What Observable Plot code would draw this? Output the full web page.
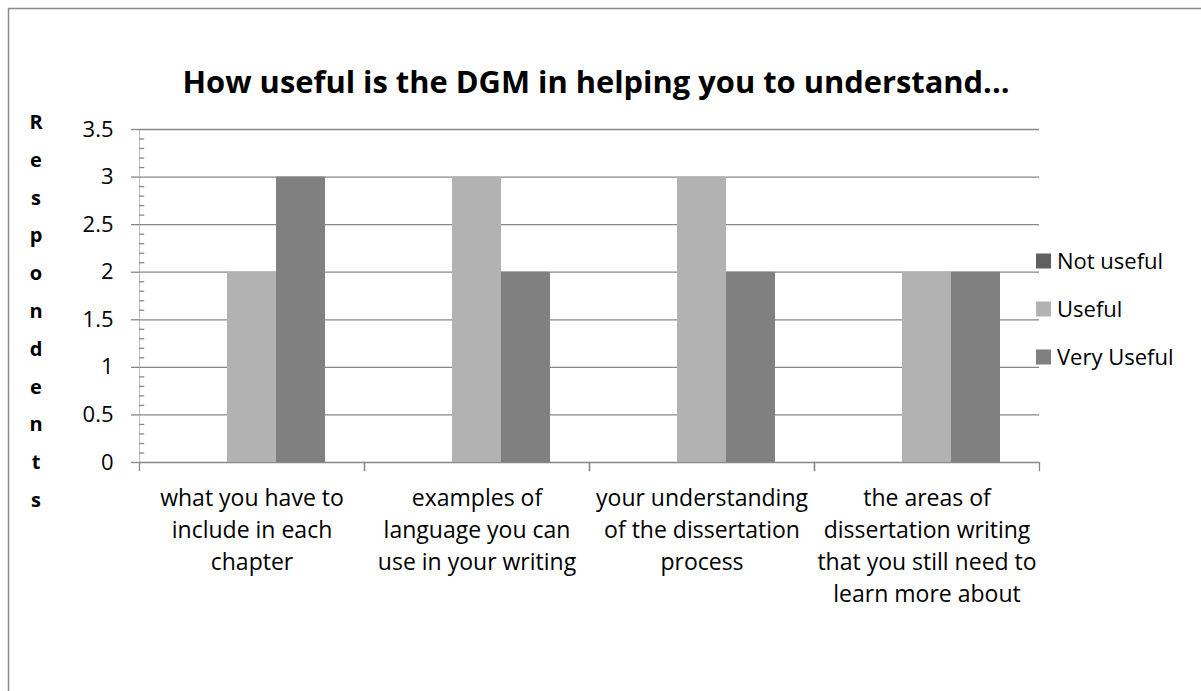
<!DOCTYPE html>
<html>
<head>
<meta charset="utf-8">
<script src="https://cdn.jsdelivr.net/npm/d3@7"></script>
<script src="https://cdn.jsdelivr.net/npm/@observablehq/plot@0.6"></script>
<style>
  html, body { margin: 0; padding: 0; background: #fff; }
  #chart svg { display: block; }
</style>
</head>
<body>
<div id="chart"></div>
<script>
// ---- data ----
const categories = [
  "what you have to include in each chapter",
  "examples of language you can use in your writing",
  "your understanding of the dissertation process",
  "the areas of dissertation writing that you still need to learn more about"
];
const categoryLabels = [
  "what you have to\ninclude in each\nchapter",
  "examples of\nlanguage you can\nuse in your writing",
  "your understanding\nof the dissertation\nprocess",
  "the areas of\ndissertation writing\nthat you still need to\nlearn more about"
];
const series = ["Not useful", "Useful", "Very Useful"];
const notUseful = [0, 0, 0, 0];
const useful = [2, 3, 3, 2];
const veryUseful = [3, 2, 2, 2];
const seriesColors = ["#5f5f5f", "#b2b2b2", "#808080"];
const yTicks = [0, 0.5, 1, 1.5, 2, 2.5, 3, 3.5];
const yMinorTicks = d3.range(0, 35).map(i => i / 10).filter(v => Math.round(v * 10) % 5 !== 0);
const title = "How useful is the DGM in helping you to understand...";
const yTitle = "Respondents";

const seriesValues = [notUseful, useful, veryUseful];
const rows = [];
series.forEach((s, si) => categories.forEach((c, ci) => rows.push({category: c, series: s, value: seriesValues[si][ci]})));

// ---- layout ----
const W = 1201, H = 691;
const mL = 137, mR = 161, mT = 129, mB = 229;
const bandW = (W - mL - mR) / categories.length;
const plotH = H - mT - mB;
const grid = "#888888";
const font = "'Open Sans', sans-serif";

const chart = Plot.plot({
  width: W,
  height: H,
  marginLeft: mL,
  marginRight: mR,
  marginTop: mT,
  marginBottom: mB,
  style: {fontFamily: font, fontSize: "22px", color: "#000", background: "#fff"},
  fx: {domain: categories, paddingInner: 0, paddingOuter: 0, axis: null, label: null},
  x: {domain: series, paddingInner: 0, paddingOuter: 0.76, axis: null, label: null},
  y: {domain: [0, 3.5], axis: null, label: null},
  color: {domain: series, range: seriesColors},
  marks: [
    Plot.ruleY(yTicks, {y: d => d, stroke: grid, strokeWidth: 1.3}),
    Plot.rect([0], {fx: () => categories[0], y1: 0, y2: 3.5, insetRight: bandW - 1.3, fill: grid}),
    Plot.tickY(yMinorTicks, {y: d => d, fx: () => categories[0], insetRight: bandW - 6, stroke: grid, strokeWidth: 1.3}),
    Plot.frame({anchor: "left", insetTop: plotH, insetBottom: -8, stroke: grid, strokeWidth: 1.3}),
    Plot.frame({anchor: "right", insetTop: plotH, insetBottom: -8, stroke: grid, strokeWidth: 1.3}),
    Plot.axisY(yTicks, {tickSize: 8, tickPadding: 18, stroke: grid, strokeWidth: 1.3, fontSize: 22, tickFormat: d => String(d), label: null}),
    Plot.barY(rows, {fx: "category", x: "series", y: "value", fill: "series"}),
    Plot.text(categories, {fx: d => d, text: (d) => categoryLabels[categories.indexOf(d)], frameAnchor: "bottom", lineAnchor: "top", dy: 21, fontSize: 23, lineHeight: 1.39, fill: "#000"})
  ]
});

document.getElementById("chart").appendChild(chart);

const svg = d3.select(chart);
// border
svg.append("rect").attr("x", 8.5).attr("y", 8.5).attr("width", W + 100).attr("height", H + 100)
  .attr("fill", "none").attr("stroke", "#8a8a8a").attr("stroke-width", 1.5);
// title
svg.append("text").attr("x", 596).attr("y", 93).attr("text-anchor", "middle")
  .attr("font-family", font).attr("font-weight", "bold").attr("font-size", 31)
  .attr("textLength", 827).attr("lengthAdjust", "spacingAndGlyphs")
  .attr("fill", "#000").text(title);
// y title, stacked letters
yTitle.split("").forEach((ch, i) => {
  svg.append("text").attr("x", 36).attr("y", 129 + i * 37.8).attr("text-anchor", "middle")
    .attr("font-family", font).attr("font-weight", "bold").attr("font-size", 20)
    .attr("fill", "#000").text(ch);
});
// legend
series.forEach((s, i) => {
  const cy = 261 + i * 48;
  svg.append("rect").attr("x", 1036).attr("y", cy - 7.5).attr("width", 15).attr("height", 15).attr("fill", seriesColors[i]);
  svg.append("text").attr("x", 1057).attr("y", cy + 7.5).attr("text-anchor", "start")
    .attr("font-family", font).attr("font-size", 22)
    .attr("fill", "#000").text(s);
});
</script>
</body>
</html>
